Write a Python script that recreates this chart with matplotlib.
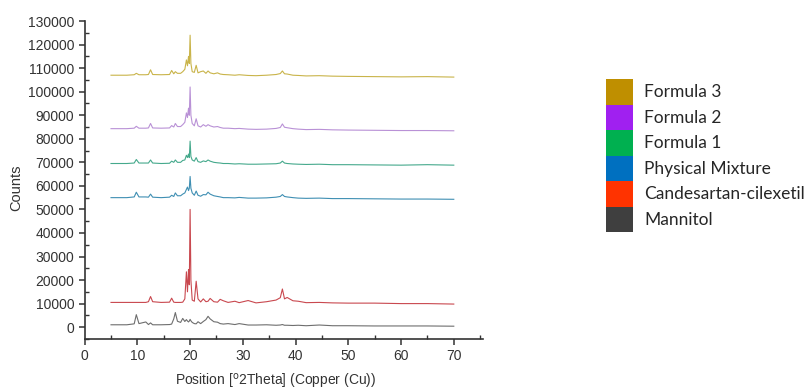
import matplotlib.pyplot as plt
from matplotlib.patches import Patch
from matplotlib.ticker import MultipleLocator

# ==========================================
# 1. Settings
# ==========================================
DPI_SETTING = 100
FIG_SIZE = (8.06, 3.90)

# ==========================================
# 2. Data
# ==========================================
two_theta = [5, 8, 9.4, 9.8, 10.3, 11.6, 12.1, 12.5, 12.9, 14.5,
             16.1, 16.5, 16.9, 17.2, 17.6, 18.2, 18.6, 19.0, 19.3, 19.5,
             19.7, 19.85, 20.0, 20.15, 20.4, 20.8, 21.15, 21.5, 22.0, 22.5,
             23.0, 23.4, 23.8, 24.5, 25.2, 25.7, 26.3, 27.2, 28.5, 29.3,
             31.0, 32.5, 34.5, 36.3, 37.1, 37.5, 37.9, 38.4, 39.5, 40.5,
             42, 44.5, 47, 50, 55, 60, 65, 70]

mannitol = [1000, 1000, 1400, 5300, 1500, 2200, 1100, 1800, 1000, 1000,
            1100, 1300, 3500, 6200, 2500, 2000, 3700, 2400, 3200, 2600,
            2200, 2600, 3300, 2700, 2000, 1500, 1400, 2300, 1500, 2400,
            3200, 4600, 3500, 2300, 2100, 1500, 1300, 1500, 1100, 1500,
            900, 900, 1000, 800, 900, 1100, 800, 800, 700, 800,
            600, 900, 600, 600, 500, 500, 500, 400]

candesartan = [10500, 10500, 10500, 10500, 10500, 10500, 10800, 13000, 10800, 10500,
               10600, 12300, 10600, 10500, 10500, 10500, 10600, 12000, 23500, 15000,
               24500, 18000, 50000, 20000, 11500, 11000, 19500, 12000, 10700, 12000,
               10800, 11000, 12200, 10800, 10600, 11800, 11200, 10500, 11000, 10400,
               11300, 10300, 10800, 11500, 12500, 16200, 12000, 12600, 11200, 11000,
               10400, 10500, 10300, 10200, 10200, 10000, 10000, 9800]

physical_mix = [55000, 55000, 55300, 57300, 55300, 55300, 55200, 56500, 55200, 55000,
                55200, 56000, 55500, 57000, 55800, 55800, 56500, 57000, 58500, 59500,
                58000, 59000, 64000, 59000, 57000, 56000, 57800, 56000, 55600, 56300,
                56200, 57300, 56500, 55800, 55500, 55300, 55000, 55000, 54900, 55100,
                54800, 54800, 54900, 55200, 55500, 56300, 55500, 55300, 55000, 54800,
                54700, 54800, 54600, 54600, 54500, 54400, 54400, 54300]

formula_1 = [69500, 69500, 69700, 71200, 69700, 69700, 69700, 71000, 69700, 69500,
             69600, 70500, 70000, 71000, 70000, 70000, 70800, 71000, 73000, 72000,
             73500, 72000, 79000, 72500, 71000, 70500, 72000, 70300, 70000, 70600,
             70300, 71000, 70500, 70000, 69800, 69700, 69500, 69500, 69300, 69400,
             69200, 69200, 69300, 69400, 69700, 70500, 69700, 69500, 69300, 69200,
             69100, 69200, 69000, 69000, 68900, 68800, 69000, 68800]

formula_2 = [84300, 84300, 84500, 85300, 84500, 84500, 84600, 86500, 84600, 84500,
             84600, 85600, 85000, 86500, 85200, 85200, 86000, 87000, 91000, 89000,
             93000, 90000, 102000, 90000, 86500, 85500, 88500, 85500, 85000, 86000,
             85300, 86000, 85500, 85000, 85200, 84800, 84500, 84500, 84300, 84400,
             84100, 84000, 84100, 84400, 84800, 86300, 84900, 84700, 84300, 84100,
             83900, 84000, 83800, 83700, 83600, 83500, 83500, 83400]

formula_3 = [107000, 107000, 107200, 107800, 107200, 107200, 107300, 109300, 107300, 107200,
             107300, 109000, 107600, 108500, 107800, 107800, 108500, 109500, 113500, 111000,
             115000, 112000, 124000, 112000, 108500, 108200, 111200, 108000, 108500, 108800,
             107800, 108800, 108000, 107600, 108000, 107500, 107300, 107200, 107000, 107200,
             106900, 106800, 107000, 107300, 107700, 108800, 107600, 107500, 107000, 106900,
             106700, 106800, 106600, 106500, 106400, 106300, 106400, 106200]

series_names = ['Formula 3', 'Formula 2', 'Formula 1', 'Physical Mixture',
                'Candesartan-cilexetil', 'Mannitol']
series_data = [formula_3, formula_2, formula_1, physical_mix, candesartan, mannitol]

# line colours (muted, as in the plot) and legend swatch colours
line_colors = ['#c9b44a', '#b991d6', '#45a98c', '#3f8fb3', '#c9484f', '#6e6e6e']
legend_colors = ['#bf8f00', '#a020f0', '#00b050', '#0070c0', '#ff3300', '#3f3f3f']

# ==========================================
# 3. Plot
# ==========================================
fig = plt.figure(figsize=FIG_SIZE, dpi=DPI_SETTING)
ax = fig.add_axes([0.105, 0.131, 0.494, 0.815])

for ys, col in zip(series_data, line_colors):
    ax.plot(two_theta, ys, color=col, linewidth=0.8)

ax.set_xlim(0, 75.5)
ax.set_ylim(-5000, 130000)
ax.xaxis.set_major_locator(MultipleLocator(10))
ax.xaxis.set_minor_locator(MultipleLocator(5))
ax.yaxis.set_major_locator(MultipleLocator(10000))
ax.yaxis.set_minor_locator(MultipleLocator(5000))

for side in ['top', 'right']:
    ax.spines[side].set_visible(False)
for side in ['left', 'bottom']:
    ax.spines[side].set_linewidth(1.2)
    ax.spines[side].set_color('#333333')

ax.tick_params(which='major', direction='out', length=4, width=1.1,
               color='#333333', labelsize=10, labelcolor='#333333')
ax.tick_params(which='minor', direction='in', length=3, width=1.0, color='#333333')
for lab in ax.get_xticklabels() + ax.get_yticklabels():
    lab.set_family('Liberation Sans')

ax.set_xlabel('Position [$^{\\mathrm{o}}$2Theta] (Copper (Cu))',
              fontsize=10, family='Liberation Sans', color='#333333')
ax.set_ylabel('Counts', fontsize=10.5, family='Liberation Sans', color='#333333')
ax.xaxis.set_label_coords(0.48, -0.105)
ax.yaxis.set_label_coords(-0.155, 0.475)

# legend with coloured swatches
handles = [Patch(facecolor=c, edgecolor='none', label=n)
           for c, n in zip(legend_colors, series_names)]
fig.legend(handles=handles,
           loc='upper left',
           bbox_to_anchor=(0.752, 0.797),
           frameon=False,
           prop={'family': 'Lato', 'size': 12.5},
           handlelength=1.55,
           handleheight=1.88,
           handletextpad=0.63,
           labelspacing=0,
           borderpad=0,
           borderaxespad=0,
           labelcolor='#262626')

plt.savefig('out.png', dpi=DPI_SETTING)
plt.close()
